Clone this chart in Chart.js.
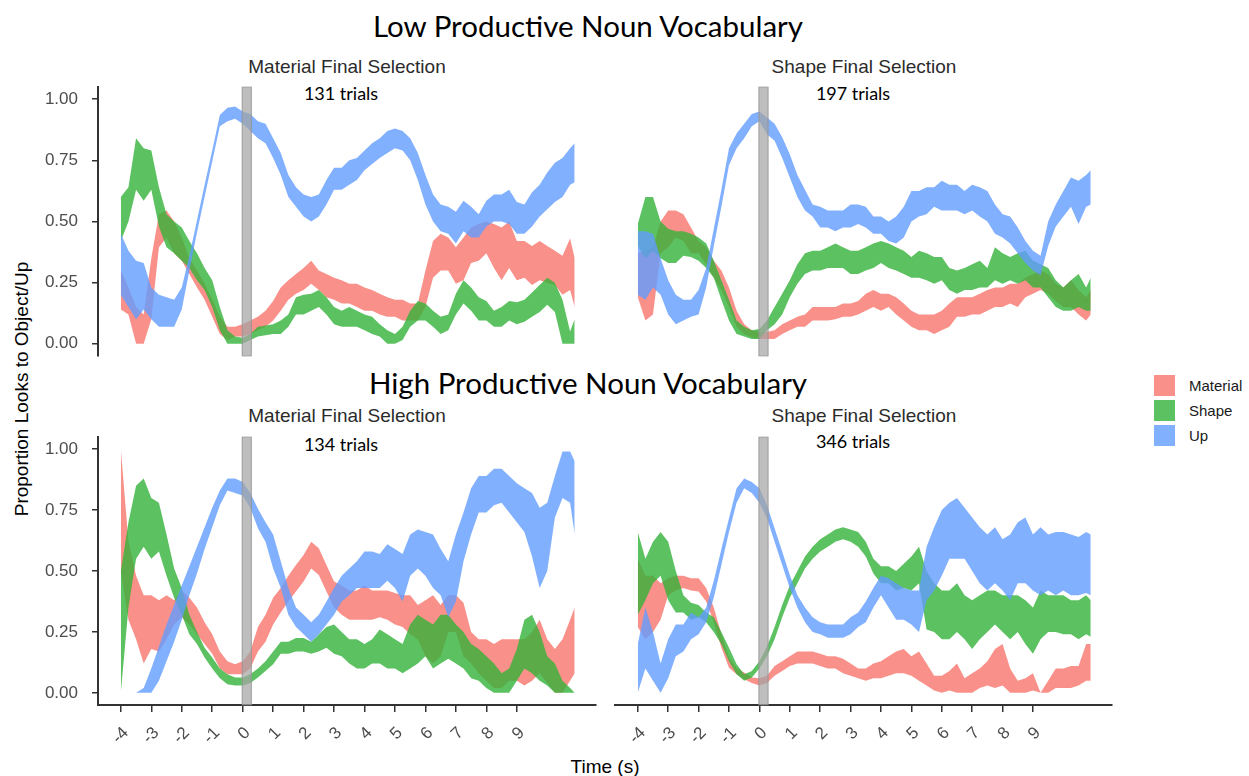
<!DOCTYPE html>
<html lang="en">
<head>
  <meta charset="UTF-8" />
  <title>Proportion of looks by productive noun vocabulary</title>
  <script src="https://cdn.jsdelivr.net/npm/chart.js"></script>
  <style>
    body {
      margin: 0;
      background: #fff;
    }
    #wrap {
      position: relative;
      width: 1249px;
      height: 776px;
      overflow: hidden;
    }
    #wrap canvas {
      position: absolute;
    }
    .group-title {
      position: absolute;
      left: 0;
      width: 1176px;
      text-align: center;
      font-family: Lato, 'Open Sans', sans-serif;
      font-size: 29.5px;
      line-height: 1;
      color: #000;
    }
    .strip {
      position: absolute;
      width: 498px;
      text-align: center;
      font-family: 'Liberation Sans', Arial, sans-serif;
      font-size: 19px;
      line-height: 1;
      color: #2b2b2b;
    }
    .trials {
      position: absolute;
      width: 200px;
      text-align: center;
      font-family: Lato, sans-serif;
      font-size: 18px;
      line-height: 1;
      color: #000;
    }
    .axis-title {
      position: absolute;
      font-family: 'Liberation Sans', Arial, sans-serif;
      font-size: 19px;
      line-height: 1;
      color: #000;
      white-space: nowrap;
    }
    #legend {
      position: absolute;
      left: 1153px;
      top: 373px;
      font-family: 'Liberation Sans', Arial, sans-serif;
      font-size: 15px;
      color: #1a1a1a;
    }
    #legend div {
      display: flex;
      align-items: center;
      height: 25px;
    }
    #legend span.key {
      width: 23px;
      height: 23px;
      margin-right: 13px;
      box-sizing: border-box;
      border: 1px solid #fff;
    }
  </style>
</head>
<body>
<div id="wrap">
  <div class="group-title" style="top:11px">Low Productive Noun Vocabulary</div>
  <div class="group-title" style="top:368px">High Productive Noun Vocabulary</div>

  <div class="strip" style="left:98px;top:57px">Material Final Selection</div>
  <div class="strip" style="left:615px;top:57px">Shape Final Selection</div>
  <div class="strip" style="left:98px;top:406px">Material Final Selection</div>
  <div class="strip" style="left:615px;top:406px">Shape Final Selection</div>

  <div class="trials" style="left:241px;top:84px">131 trials</div>
  <div class="trials" style="left:753px;top:84px">197 trials</div>
  <div class="trials" style="left:241px;top:435px">134 trials</div>
  <div class="trials" style="left:753px;top:432px">346 trials</div>

  <div class="axis-title" style="left:21px;top:389px;transform:translate(-50%,-50%) rotate(-90deg)">Proportion Looks to Object/Up</div>
  <div class="axis-title" style="left:605px;top:766px;transform:translate(-50%,-50%)">Time (s)</div>

  <canvas id="lowMaterial" width="600" height="282" style="left:0;top:80px"></canvas>
  <canvas id="lowShape" width="520" height="282" style="left:600px;top:80px"></canvas>
  <canvas id="highMaterial" width="600" height="346" style="left:0;top:430px"></canvas>
  <canvas id="highShape" width="520" height="346" style="left:600px;top:430px"></canvas>

  <div id="legend"></div>
</div>

<script>
  // time (s) relative to the final selection
  const time = [-4,-3.75,-3.5,-3.25, -3,-2.75,-2.5,-2.25, -2,-1.75,-1.5,-1.25, -1,-0.75,-0.5,-0.25,
    0,0.25,0.5,0.75, 1,1.25,1.5,1.75, 2,2.25,2.5,2.75, 3,3.25,3.5,3.75, 4,4.25,4.5,4.75,
    5,5.25,5.5,5.75, 6,6.25,6.5,6.75, 7,7.25,7.5,7.75, 8,8.25,8.5,8.75, 9,9.25,9.5,9.75,
    10,10.25,10.5,10.75, 10.9];

  const xTicks = [-4,-3,-2,-1,0,1,2,3,4,5,6,7,8,9];
  const yTicks = [0, 0.25, 0.5, 0.75, 1];
  const aois = ['Material', 'Shape', 'Up'];

  // ---- Low vocabulary, material final selection ----
  const lowMatUpLo = [.20,.15,.10,.14, .10,.07,.07,.07, .14,.30,.455,.60, .745,.89,.91,.92, .90,.87,.84,.82, .76,.69,.60,.56, .52,.50,.52,.57, .63,.63,.65,.67, .71,.735,.76,.78, .80,.79,.75,.67, .57,.50,.46,.45, .41,.46,.435,.435, .48,.50,.50,.49, .45,.45,.48,.52, .55,.58,.60,.65, .66];
  const lowMatUpHi = [.45,.38,.34,.33, .23,.20,.19,.18, .23,.36,.505,.65, .79,.935,.965,.97, .95,.94,.91,.90, .84,.78,.69,.64, .61,.60,.61,.67, .72,.72,.75,.76, .79,.82,.84,.87, .88,.87,.84,.78, .69,.61,.57,.56, .54,.585,.56,.53, .585,.61,.61,.63, .58,.57,.62,.65, .70,.74,.76,.80, .82];
  const lowMatMatLo = [.14,.12,0,0, .10,.395,.435,.37, .34,.285,.23,.18, .11,.04,.015,.03, .03,.04,.055,.07, .095,.135,.18,.205, .22,.245,.22,.19, .18,.165,.165,.15, .135,.135,.12,.11, .11,.095,.095,.095, .15,.27,.30,.30, .245,.26,.33,.34, .37,.31,.26,.31, .26,.27,.24,.26, .25,.24,.20,.22, .15];
  const lowMatMatHi = [.30,.23,.15,.12, .35,.53,.545,.50, .435,.35,.30,.245, .18,.11,.07,.07, .08,.095,.11,.135, .175,.23,.26,.285, .31,.34,.30,.285, .27,.26,.245,.245, .23,.22,.205,.19, .18,.18,.165,.165, .30,.42,.45,.435, .395,.435,.475,.49, .50,.49,.475,.50, .42,.42,.40,.42, .40,.38,.36,.43, .35];
  const lowMatShpLo = [.42,.50,.63,.585, .63,.48,.395,.37, .34,.31,.26,.22, .15,.055,0,0, 0,.015,.03,.035, .04,.04,.07,.12, .12,.135,.15,.12, .08,.07,.07,.07, .055,.04,.03,0, 0,.015,.07,.095, .095,.07,.04,.055, .12,.165,.135,.095, .095,.07,.07,.095, .08,.09,.11,.13, .16,.13,0,0, 0];
  const lowMatShpHi = [.60,.64,.84,.80, .79,.64,.53,.50, .475,.42,.37,.31, .26,.15,.055,.03, .025,.04,.07,.075, .08,.095,.12,.19, .20,.205,.22,.19, .15,.135,.15,.135, .12,.11,.08,.055, .04,.07,.135,.175, .165,.135,.11,.12, .205,.26,.23,.19, .175,.135,.15,.175, .17,.18,.21,.24, .27,.25,.18,.05, .10];

  // ---- Low vocabulary, shape final selection ----
  const lowShpUpLo = [.20,.18,.23,.20, .12,.08,.095,.11, .12,.23,.40,.56, .73,.80,.84,.89, .91,.857,.83,.76, .68,.60,.545,.52, .475,.475,.46,.475, .475,.49,.475,.45, .45,.42,.41,.435, .50,.52,.53,.56, .545,.545,.545,.53, .545,.52,.50,.45, .435,.41,.37,.33, .30,.28,.40,.48, .52,.56,.49,.56, .57];
  const lowShpUpHi = [.46,.46,.45,.35, .26,.20,.18,.18, .22,.31,.47,.63, .80,.86,.90,.94, .95,.925,.90,.845, .775,.69,.63,.57, .56,.545,.545,.545, .57,.57,.56,.52, .52,.50,.52,.56, .625,.625,.64,.64, .667,.65,.65,.625, .65,.64,.625,.57, .53,.52,.475,.42, .38,.36,.50,.57, .625,.68,.667,.69, .71];
  const lowShpMatLo = [.19,.095,.12,.37, .395,.435,.42,.37, .37,.325,.27,.22, .15,.07,.04,.027, .02,.02,.02,.04, .055,.07,.07,.095, .095,.095,.10,.11, .11,.12,.135,.15, .135,.15,.12,.095, .07,.055,.055,.04, .055,.07,.11,.11, .12,.12,.135,.15, .15,.165,.15,.19, .205,.22,.205,.175, .15,.15,.12,.095, .12];
  const lowShpMatHi = [.37,.38,.395,.50, .545,.545,.53,.475, .42,.395,.34,.30, .23,.135,.08,.055, .048,.048,.055,.08, .095,.11,.12,.15, .15,.15,.15,.165, .165,.175,.205,.22, .205,.205,.19,.165, .135,.12,.12,.12, .135,.165,.19,.19, .19,.205,.22,.23, .23,.245,.245,.27, .285,.30,.285,.245, .23,.26,.22,.19, .22];
  const lowShpShpLo = [.40,.35,.38,.35, .33,.33,.36,.355, .34,.31,.27,.18, .095,.04,.03,.02, .02,.055,.08,.12, .19,.245,.285,.30, .30,.31,.31,.31, .285,.285,.30,.31, .33,.31,.30,.285, .27,.27,.26,.245, .26,.22,.205,.22, .22,.23,.23,.26, .245,.26,.245,.26, .23,.23,.19,.15, .135,.135,.15,.135, .135];
  const lowShpShpHi = [.49,.60,.60,.50, .47,.46,.46,.45, .435,.41,.34,.26, .18,.095,.07,.055, .06,.095,.15,.205, .26,.325,.37,.38, .38,.395,.41,.395, .38,.38,.395,.41, .42,.41,.395,.38, .355,.38,.37,.355, .355,.31,.30,.31, .325,.34,.31,.395, .37,.355,.37,.38, .34,.325,.31,.26, .23,.26,.285,.23, .27];

  // ---- High vocabulary, material final selection ----
  const highMatUpLo = [0,0,0,0, 0,.05,.13,.21, .30,.40,.49,.59, .68,.77,.83,.82, .81,.76,.675,.62, .51,.43,.32,.27, .24,.21,.24,.28, .32,.375,.40,.43, .43,.43,.43,.46, .43,.375,.48,.51, .48,.43,.40,.31, .375,.54,.65,.74, .74,.77,.78,.74, .70,.66,.56,.43, .50,.72,.80,.78, .65];
  const highMatUpHi = [0,0,0,.02, .10,.19,.28,.36, .44,.52,.60,.68, .76,.83,.88,.88, .865,.82,.755,.70, .65,.54,.43,.35, .32,.29,.32,.375, .43,.48,.51,.54, .58,.58,.57,.61, .59,.57,.65,.67, .66,.65,.59,.54, .65,.74,.84,.89, .89,.92,.92,.89, .86,.84,.82,.76, .78,.89,.99,.99, .95];
  const highMatMatLo = [.50,.30,.22,.12, .18,.17,.22,.28, .31,.28,.24,.20, .16,.10,.076,.076, .076,.10,.17,.21, .28,.33,.375,.416, .457,.51,.484,.416, .35,.32,.30,.30, .30,.30,.31,.30, .28,.27,.24,.22, .15,.12,.15,.25, .25,.15,.12,.08, .05,.02,.02,.05, .05,.03,.05,.08, .04,0,0,.05, .08];
  const highMatMatHi = [1,.62,.48,.40, .40,.38,.40,.38, .42,.39,.35,.29, .24,.17,.13,.117, .13,.17,.27,.32, .39,.43,.48,.525, .566,.62,.593,.525, .457,.44,.42,.42, .44,.42,.42,.42, .41,.40,.40,.36, .38,.40,.36,.40, .40,.37,.25,.22, .22,.20,.22,.22, .22,.22,.25,.30, .22,.18,.22,.30, .35];
  const highMatShpLo = [0,.35,.55,.60, .55,.58,.48,.39, .32,.24,.20,.145, .10,.06,.035,.03, .03,.04,.063,.09, .117,.16,.16,.17, .17,.16,.17,.185, .16,.15,.12,.10, .10,.12,.12,.10, .10,.08,.10,.12, .15,.10,.12,.14, .12,.10,.06,.05, .02,0,0,0, .05,.10,.08,.05, .03,0,0,0, 0];
  const highMatShpHi = [.50,.70,.85,.88, .80,.78,.65,.51, .43,.32,.25,.185, .145,.10,.076,.063, .063,.076,.10,.13, .17,.21,.21,.225, .225,.21,.24,.27, .28,.25,.22,.22, .20,.22,.26,.24, .22,.20,.28,.32, .30,.28,.32,.32, .28,.25,.20,.18, .15,.12,.08,.10, .18,.30,.32,.25, .15,.12,.05,.02, 0];

  // ---- High vocabulary, shape final selection ----
  const highShpUpLo = [0,.10,.05,0, .06,.15,.17,.22, .24,.29,.39,.525, .66,.78,.84,.82, .78,.716,.62,.525, .43,.35,.29,.25, .24,.226,.226,.226, .24,.27,.29,.35, .40,.35,.30,.30, .28,.25,.38,.42, .48,.55,.55,.55, .50,.45,.42,.45, .42,.38,.45,.45, .42,.40,.42,.40, .42,.40,.40,.41, .40];
  const highShpUpHi = [.20,.35,.25,.12, .22,.28,.28,.33, .31,.35,.46,.59, .716,.84,.88,.865, .84,.77,.675,.58, .484,.40,.35,.31, .29,.28,.28,.28, .31,.33,.375,.43, .48,.47,.45,.43, .42,.42,.60,.68, .75,.78,.80,.76, .72,.68,.65,.68, .63,.65,.70,.72, .65,.68,.65,.66, .66,.65,.64,.66, .65];
  const highShpMatLo = [.27,.22,.25,.30, .40,.42,.43,.42, .416,.375,.29,.185, .103,.076,.056,.04, .03,.04,.07,.09, .11,.12,.12,.12, .11,.10,.10,.08, .07,.06,.05,.06, .06,.07,.08,.08, .07,.05,.03,.01, 0,.01,0,0, 0,.02,.03,.02, .03,0,0,0, .01,0,0,.02, .02,.02,.03,.05, .05];
  const highShpMatHi = [.55,.48,.48,.45, .47,.48,.48,.47, .47,.43,.35,.24, .144,.10,.083,.063, .06,.07,.11,.13, .15,.17,.17,.17, .16,.15,.15,.14, .12,.10,.10,.12, .13,.15,.17,.18, .15,.17,.12,.07, .07,.09,.12,.06, .08,.10,.13,.18, .20,.10,.05,.06, .08,0,.05,.10, .10,.11,.11,.20, .20];
  const highShpShpLo = [.32,.38,.45,.48, .38,.33,.33,.30, .31,.29,.25,.20, .13,.076,.05,.063, .10,.15,.22,.31, .39,.45,.51,.55, .58,.60,.62,.63, .62,.60,.56,.49, .45,.45,.42,.43, .42,.45,.26,.25, .22,.22,.25,.22, .18,.22,.25,.28, .25,.22,.25,.20, .16,.22,.25,.25, .24,.24,.22,.24, .23];
  const highShpShpHi = [.66,.55,.62,.66, .62,.50,.40,.37, .36,.33,.31,.25, .185,.117,.076,.09, .13,.19,.27,.36, .44,.50,.56,.60, .63,.65,.67,.68, .67,.66,.62,.55, .52,.52,.50,.53, .56,.60,.50,.45, .42,.42,.45,.40, .38,.40,.42,.42, .40,.40,.40,.38, .35,.42,.40,.40, .40,.38,.38,.40, .38];

  const fills = {
    Material: 'rgba(248,118,109,0.8)',
    Shape: 'rgba(51,177,56,0.8)',
    Up: 'rgba(97,156,255,0.8)'
  };
  const legendKeys = {Material: '#f9918a', Shape: '#5cc160', Up: '#81b0ff'};

  const panels = [
    {id: 'lowMaterial', showY: true, showX: false, padLeft: 0, padRight: 4,
     bands: {Material: [lowMatMatLo, lowMatMatHi], Shape: [lowMatShpLo, lowMatShpHi], Up: [lowMatUpLo, lowMatUpHi]}},
    {id: 'lowShape', showY: false, showX: false, padLeft: 15, padRight: 8,
     bands: {Material: [lowShpMatLo, lowShpMatHi], Shape: [lowShpShpLo, lowShpShpHi], Up: [lowShpUpLo, lowShpUpHi]}},
    {id: 'highMaterial', showY: true, showX: true, padLeft: 0, padRight: 4,
     bands: {Material: [highMatMatLo, highMatMatHi], Shape: [highMatShpLo, highMatShpHi], Up: [highMatUpLo, highMatUpHi]}},
    {id: 'highShape', showY: false, showX: true, padLeft: 15, padRight: 8,
     bands: {Material: [highShpMatLo, highShpMatHi], Shape: [highShpShpLo, highShpShpHi], Up: [highShpUpLo, highShpUpHi]}}
  ];

  // grey band marking the moment of the final selection
  const selectionBar = {
    id: 'selectionBar',
    afterDatasetsDraw(chart) {
      const {ctx, chartArea, scales} = chart;
      const x0 = scales.x.getPixelForValue(-0.03);
      const x1 = scales.x.getPixelForValue(0.3);
      ctx.save();
      ctx.fillStyle = 'rgba(165,165,165,0.72)';
      ctx.fillRect(x0, chartArea.top, x1 - x0, chartArea.bottom - chartArea.top);
      ctx.strokeStyle = 'rgba(140,140,140,0.6)';
      ctx.lineWidth = 1;
      ctx.strokeRect(x0 + 0.5, chartArea.top, x1 - x0 - 1, chartArea.bottom - chartArea.top);
      ctx.restore();
    }
  };

  const tickFont = {family: "'Liberation Sans', Arial, sans-serif", size: 17};

  function ribbonSets(bands) {
    const sets = [];
    // Up first so it is painted last (on top)
    ['Up', 'Shape', 'Material'].forEach(name => {
      const [lo, hi] = bands[name];
      sets.push({
        label: name + ' lower',
        data: time.map((t, i) => ({x: t, y: lo[i]})),
        borderColor: 'rgba(0,0,0,0)', pointRadius: 0, fill: false
      });
      sets.push({
        label: name,
        data: time.map((t, i) => ({x: t, y: hi[i]})),
        borderColor: 'rgba(0,0,0,0)', pointRadius: 0,
        fill: '-1', backgroundColor: fills[name]
      });
    });
    return sets;
  }

  panels.forEach(p => {
    new Chart(document.getElementById(p.id), {
      type: 'line',
      data: {datasets: ribbonSets(p.bands)},
      options: {
        responsive: false,
        animation: false,
        layout: {padding: {top: 7, left: p.padLeft, right: p.padRight, bottom: p.showX ? 0 : 6}},
        plugins: {legend: {display: false}, tooltip: {enabled: false}},
        elements: {line: {tension: 0, borderWidth: 1}},
        scales: {
          x: {
            type: 'linear',
            min: -4.75,
            max: 11.6,
            display: p.showX,
            afterBuildTicks: s => { s.ticks = xTicks.map(v => ({value: v})); },
            afterFit: s => {
              if (!p.showX) return;
              s.height = 71; s.paddingLeft = 0; s.paddingRight = 0;
            },
            grid: {drawOnChartArea: false, drawTicks: true, tickLength: 7, color: '#333', lineWidth: 1.5},
            border: {display: true, color: '#333', width: 2},
            ticks: {
              autoSkip: false, minRotation: 45, maxRotation: 45,
              font: tickFont, color: '#4d4d4d', padding: 11, labelOffset: 5,
              callback: v => String(v)
            }
          },
          y: {
            min: -0.05,
            max: 1.05,
            display: p.showY,
            afterBuildTicks: s => { s.ticks = yTicks.map(v => ({value: v})); },
            afterFit: s => {
              if (!p.showY) return;
              s.width = 98; s.paddingTop = 0; s.paddingBottom = 0;
            },
            grid: {drawOnChartArea: false, drawTicks: true, tickLength: 6, color: '#333', lineWidth: 1.5},
            border: {display: true, color: '#333', width: 2},
            ticks: {font: tickFont, color: '#4d4d4d', padding: 14, callback: v => v.toFixed(2)}
          }
        }
      },
      plugins: [selectionBar]
    });
  });

  const legend = document.getElementById('legend');
  aois.forEach(name => {
    const row = document.createElement('div');
    const key = document.createElement('span');
    key.className = 'key';
    key.style.background = legendKeys[name];
    row.appendChild(key);
    row.appendChild(document.createTextNode(name));
    legend.appendChild(row);
  });
</script>
</body>
</html>
